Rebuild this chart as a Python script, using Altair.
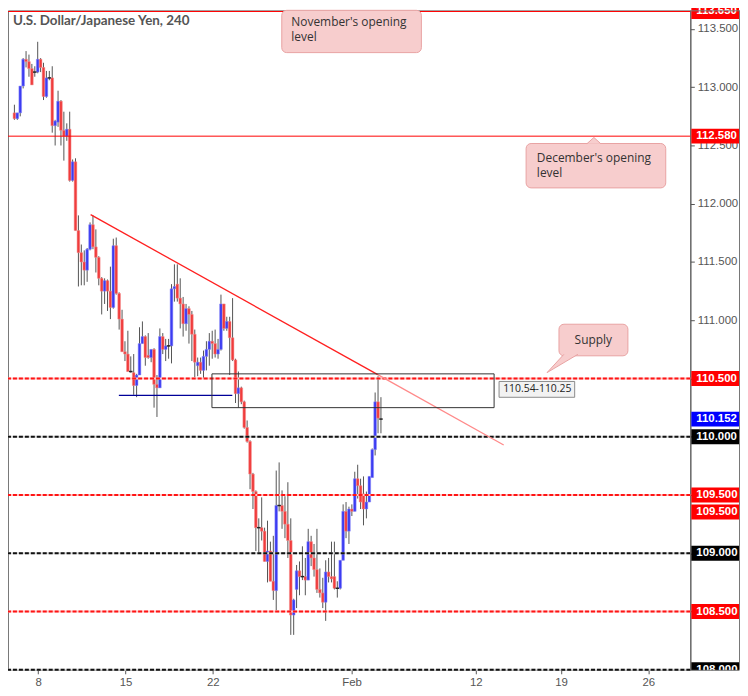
import altair as alt
import pandas as pd

# ---------------- candle data (USD/JPY, 4h) ----------------
idx = list(range(127))
opens = [112.78, 112.73, 112.78, 113.01, 113.24, 113.22, 113.16, 113.13, 113.13, 113.24,
         113.17, 112.92, 113.08, 113.08, 112.67, 112.70, 112.88, 112.63, 112.58, 112.64,
         112.20, 112.36, 111.77, 111.58, 111.50, 111.43, 111.61, 111.82, 111.63, 111.54,
         111.36, 111.25, 111.34, 111.25, 111.11, 111.64, 111.23, 111.01, 110.73, 110.71,
         110.56, 110.55, 110.44, 110.53, 110.80, 110.86, 110.70, 110.68, 110.75, 110.45,
         110.42, 110.86, 110.75, 110.78, 110.78, 111.27, 111.31, 111.19, 111.14, 110.97,
         111.10, 111.05, 110.88, 110.61, 110.64, 110.57, 110.69, 110.75, 110.82, 110.80,
         110.71, 110.75, 111.14, 110.93, 110.99, 110.85, 110.66, 110.37, 110.42, 110.30,
         110.08, 109.96, 109.68, 109.53, 109.22, 109.22, 109.19, 108.93, 109.02, 108.76,
         108.68, 109.41, 109.41, 109.36, 109.25, 109.11, 108.47, 108.69, 108.85, 108.80,
         108.80, 108.77, 109.10, 108.96, 108.86, 108.69, 108.66, 108.58, 108.84, 108.80,
         108.80, 108.70, 108.70, 108.94, 109.36, 109.19, 109.38, 109.36, 109.64, 109.58,
         109.51, 109.38, 109.44, 109.65, 109.89, 110.30, 110.152]
highs = [112.85, 112.78, 113.01, 113.25, 113.31, 113.28, 113.20, 113.18, 113.39, 113.25,
         113.21, 113.14, 113.14, 113.18, 112.72, 112.97, 112.89, 112.79, 112.69, 112.79,
         112.38, 112.39, 111.90, 111.65, 111.60, 111.62, 111.84, 111.90, 111.78, 111.55,
         111.37, 111.36, 111.35, 111.46, 111.70, 111.71, 111.24, 111.09, 110.82, 110.91,
         110.69, 110.71, 110.54, 110.94, 110.99, 110.87, 110.89, 110.75, 110.76, 110.53,
         110.93, 110.89, 110.84, 110.84, 111.31, 111.48, 111.48, 111.36, 111.20, 111.14,
         111.12, 111.08, 110.92, 110.68, 110.68, 110.74, 110.82, 110.89, 110.91, 110.92,
         110.84, 111.22, 111.14, 111.03, 111.03, 111.19, 110.67, 110.56, 110.43, 110.31,
         110.14, 109.97, 109.69, 109.54, 109.30, 109.48, 109.22, 109.28, 109.10, 109.15,
         109.71, 109.78, 109.54, 109.49, 109.61, 109.30, 108.61, 108.90, 108.93, 109.06,
         108.96, 109.21, 109.15, 109.08, 109.21, 108.87, 108.79, 108.94, 108.96, 109.10,
         109.10, 108.76, 108.94, 109.42, 109.44, 109.40, 109.42, 109.70, 109.76, 109.64,
         109.66, 109.53, 109.66, 109.90, 110.38, 110.52, 110.34]
lows = [112.72, 112.72, 112.75, 112.99, 113.17, 113.09, 113.02, 113.09, 113.12, 113.13,
        112.89, 112.91, 113.06, 112.61, 112.50, 112.66, 112.50, 112.37, 112.54, 112.19,
        112.19, 111.77, 111.29, 111.30, 111.30, 111.33, 111.60, 111.61, 111.41, 111.30,
        111.05, 111.14, 111.08, 111.01, 111.10, 111.22, 110.92, 110.73, 110.65, 110.56,
        110.55, 110.36, 110.34, 110.53, 110.80, 110.61, 110.67, 110.64, 110.25, 110.17,
        110.42, 110.71, 110.65, 110.67, 110.63, 111.16, 111.16, 110.93, 110.86, 110.91,
        110.80, 110.65, 110.51, 110.52, 110.54, 110.50, 110.57, 110.61, 110.67, 110.68,
        110.67, 110.74, 110.91, 110.91, 110.53, 110.65, 110.29, 110.25, 110.28, 110.07,
        109.95, 109.55, 109.38, 109.02, 109.00, 109.11, 108.93, 108.75, 108.76, 108.60,
        108.51, 109.36, 109.21, 109.13, 108.96, 108.30, 108.30, 108.53, 108.64, 108.77,
        108.64, 108.77, 108.89, 108.80, 108.66, 108.62, 108.53, 108.42, 108.75, 108.75,
        108.69, 108.62, 108.69, 108.94, 109.13, 109.08, 109.32, 109.36, 109.47, 109.38,
        109.24, 109.30, 109.44, 109.65, 109.84, 110.03, 110.03]
closes = [112.73, 112.78, 113.01, 113.24, 113.22, 113.16, 113.02, 113.13, 113.24, 113.17,
          112.92, 113.08, 113.08, 112.67, 112.71, 112.88, 112.63, 112.58, 112.64, 112.20,
          112.36, 111.77, 111.58, 111.50, 111.43, 111.61, 111.82, 111.63, 111.54, 111.36,
          111.25, 111.34, 111.25, 111.11, 111.64, 111.23, 111.01, 110.73, 110.71, 110.56,
          110.56, 110.44, 110.53, 110.80, 110.86, 110.68, 110.68, 110.75, 110.45, 110.42,
          110.86, 110.75, 110.78, 110.78, 111.27, 111.29, 111.19, 111.14, 110.97, 111.10,
          111.05, 110.88, 110.64, 110.64, 110.57, 110.69, 110.75, 110.82, 110.80, 110.71,
          110.75, 111.14, 110.93, 110.99, 110.85, 110.66, 110.37, 110.42, 110.30, 110.08,
          109.96, 109.68, 109.53, 109.22, 109.22, 109.19, 108.93, 109.02, 108.76, 108.68,
          109.41, 109.41, 109.36, 109.25, 109.11, 108.47, 108.60, 108.85, 108.80, 108.80,
          108.77, 109.10, 108.96, 108.86, 108.69, 108.66, 108.58, 108.84, 108.80, 108.78,
          108.70, 108.70, 108.94, 109.36, 109.19, 109.38, 109.36, 109.64, 109.58, 109.44,
          109.38, 109.44, 109.66, 109.89, 110.30, 110.16, 110.152]

# date axis (candle index -> label)
tick_pos = [8.2, 38.2, 68.2, 115.9, 158.6, 187.9, 217.9]
tick_lab = ["8", "15", "22", "Feb", "12", "19", "26"]
price_ticks = [108.0, 108.5, 109.0, 109.5, 110.0, 110.5, 111.0, 111.5, 112.0, 112.5, 113.0, 113.5]

# horizontal levels
open_levels = [113.65, 112.58]
red_levels = [110.5, 109.5, 108.5]
black_levels = [110.0, 109.0, 108.0]

# price tags on the right axis
tag_prices = [113.65, 112.58, 110.5, 110.152, 110.0, 109.5, 109.0, 108.5, 108.0]
tag_kinds = ["red", "red", "red", "blue", "black", "red", "black", "red", "black"]
extra_tag_prices = [109.5]

# trend line (candle index, price)
trend_x = [26.2, 124.9, 168.2]
trend_p = [111.907, 110.533, 109.93]

# small support line
support_x = [35.9, 74.9]
support_p = 110.356

# supply zone
zone_x = [67.9, 164.9]
zone_hi, zone_lo = 110.54, 110.25

# callouts
notes = [
    {"x1": 91.9, "x2": 139.9, "p1": 113.66, "p2": 113.297},
    {"x1": 175.9, "x2": 223.9, "p1": 112.517, "p2": 112.136},
    {"x1": 187.2, "x2": 210.9, "p1": 110.966, "p2": 110.695},
]
note_lines = [
    {"x": 95.2, "p": 113.562, "t": "November's opening", "a": "left"},
    {"x": 95.2, "p": 113.432, "t": "level", "a": "left"},
    {"x": 179.6, "p": 112.393, "t": "December's opening", "a": "left"},
    {"x": 179.6, "p": 112.263, "t": "level", "a": "left"},
    {"x": 199.0, "p": 110.83, "t": "Supply", "a": "center"},
]

# ---------------- layout ----------------
W, H = 687, 664
X_DOMAIN = [-0.5, 230.65]
Y_DOMAIN = [108.0, 113.66]

label_expr = " : ".join(
    f"abs(datum.value - {p}) < 0.05 ? '{l}'" for p, l in zip(tick_pos, tick_lab)
) + " : ''"

xs = alt.Scale(domain=X_DOMAIN, nice=False, zero=False)
ys = alt.Scale(domain=Y_DOMAIN, nice=False, zero=False)
xaxis = alt.Axis(values=tick_pos, labelExpr=label_expr, title=None, grid=False,
                 domainColor="#555", tickColor="#555", tickSize=4, labelColor="#555",
                 labelFont="Liberation Sans", labelFontSize=11.5, labelPadding=3,
                 labelFlush=False, labelOverlap=False)
yaxis = alt.Axis(orient="right", values=price_ticks, format=".3f", title=None, grid=False,
                 domainColor="#555", tickColor="#555", tickSize=4, labelColor="#555",
                 labelFont="Liberation Sans", labelFontSize=11.5, labelPadding=3,
                 labelOverlap=False, labelFlush=False)


def X(f):
    return alt.X(f, type="quantitative", scale=xs, axis=xaxis)


def Y(f):
    return alt.Y(f, type="quantitative", scale=ys, axis=yaxis)


df = pd.DataFrame({"i": idx, "o": opens, "h": highs, "l": lows, "c": closes})
df["dir"] = ["up" if c > o else ("down" if c < o else "flat") for o, c in zip(opens, closes)]

wicks = alt.Chart(df).mark_rule(color="#555555", strokeWidth=1).encode(
    x=X("i"), y=Y("l"), y2="h")

bodies = alt.Chart(df).transform_filter("datum.c != datum.o").mark_bar(
    size=2.7, strokeWidth=0.5).encode(
    x=X("i"), y=Y("o"), y2="c",
    fill=alt.Fill("dir:N", scale=alt.Scale(domain=["up", "down"], range=["#3c3cf2", "#f03c3c"]), legend=None),
    stroke=alt.Stroke("dir:N", scale=alt.Scale(domain=["up", "down"], range=["#8c8cf8", "#f59090"]), legend=None),
)

dojis = alt.Chart(df).transform_filter("datum.c == datum.o").transform_calculate(
    xa="datum.i - 0.6", xb="datum.i + 0.6").mark_rule(color="#222", strokeWidth=1.5).encode(
    x=X("xa"), x2="xb", y=Y("o"))

open_df = pd.DataFrame({"p": open_levels})
red_df = pd.DataFrame({"p": red_levels})
black_df = pd.DataFrame({"p": black_levels})

open_rules = alt.Chart(open_df).mark_rule(color="#ff0000", strokeWidth=1).encode(y=Y("p"))
red_halo = alt.Chart(red_df).mark_rule(color="#ffc4c4", strokeWidth=2).encode(y=Y("p"))
red_rules = alt.Chart(red_df).mark_rule(color="#ff1414", strokeWidth=2, strokeDash=[4, 2]).encode(y=Y("p"))
black_halo = alt.Chart(black_df).mark_rule(color="#d8d8d8", strokeWidth=2).encode(y=Y("p"))
black_rules = alt.Chart(black_df).mark_rule(color="#111111", strokeWidth=2, strokeDash=[4, 2]).encode(y=Y("p"))

trend_df = pd.DataFrame({"x": trend_x, "p": trend_p})
trend_a = alt.Chart(trend_df.iloc[:2]).mark_line(color="#ff2020", strokeWidth=1.3).encode(
    x=X("x"), y=Y("p"), order="x:Q")
trend_b = alt.Chart(trend_df.iloc[1:]).mark_line(color="#ff8a8a", strokeWidth=1.3).encode(
    x=X("x"), y=Y("p"), order="x:Q")

support = alt.Chart(pd.DataFrame({"x1": [support_x[0]], "x2": [support_x[1]], "p": [support_p]})).mark_rule(
    color="#000099", strokeWidth=1.2).encode(x=X("x1"), x2="x2", y=Y("p"))

zone = alt.Chart(pd.DataFrame({"x1": [zone_x[0]], "x2": [zone_x[1]], "p1": [zone_hi], "p2": [zone_lo]})).mark_rect(
    fill="transparent", stroke="#333", strokeWidth=1).encode(x=X("x1"), x2="x2", y=Y("p1"), y2="p2")

zone_tag_df = pd.DataFrame({"x1": [166.6], "x2": [192.6], "p1": [110.475], "p2": [110.339],
                            "tx": [168.0], "tp": [110.407], "t": [f"{zone_hi:.2f}-{zone_lo:.2f}"]})
zone_tag_box = alt.Chart(zone_tag_df).mark_rect(fill="#f2f2f2", stroke="#8a8a8a", strokeWidth=1).encode(
    x=X("x1"), x2="x2", y=Y("p1"), y2="p2")
zone_tag_text = alt.Chart(zone_tag_df).mark_text(align="left", baseline="middle", font="Open Sans",
                                                 fontSize=10.5, color="#222").encode(
    x=X("tx"), y=Y("tp"), text="t:N")

PINK = "#f7cdcd"
PINK_EDGE = "#e8a2a2"
notes_df = pd.DataFrame(notes)
note_boxes = alt.Chart(notes_df).mark_rect(fill=PINK, stroke=PINK_EDGE, strokeWidth=1, cornerRadius=5).encode(
    x=X("x1"), x2="x2", y=Y("p1"), y2="p2")
dec_tail = alt.Chart(pd.DataFrame({"x": [199.2], "p": [112.545]})).mark_point(
    shape="M -1 0.5 L 0 -0.4 L 1 0.5", size=196, filled=True, fill=PINK, stroke=PINK_EDGE,
    strokeWidth=1, opacity=1).encode(x=X("x"), y=Y("p"))
supply_tail = alt.Chart(pd.DataFrame({"x": [188.4], "p": [110.623]})).mark_point(
    shape="M 0.09 -0.62 L -0.97 0.53 L 0.97 -0.62", size=1024, filled=True, fill=PINK, stroke=PINK_EDGE,
    strokeWidth=1, opacity=1).encode(x=X("x"), y=Y("p"))
nl_df = pd.DataFrame(note_lines)
note_text_left = alt.Chart(nl_df[nl_df.a == "left"]).mark_text(
    align="left", baseline="middle", font="Open Sans", fontSize=12, color="#333").encode(
    x=X("x"), y=Y("p"), text="t:N")
note_text_center = alt.Chart(nl_df[nl_df.a == "center"]).mark_text(
    align="center", baseline="middle", font="Open Sans", fontSize=12, color="#333").encode(
    x=X("x"), y=Y("p"), text="t:N")

# price tags
tag_df = pd.DataFrame({"p": tag_prices, "k": tag_kinds})
tag_color = alt.Scale(domain=["red", "blue", "black"], range=["#ff0000", "#0000ff", "#000000"])
tags = alt.Chart(tag_df).mark_rect(yOffset=-7.5, y2Offset=7.5).encode(
    x=alt.value(W + 1), x2=alt.value(W + 49), y=Y("p"), y2="p",
    color=alt.Color("k:N", scale=tag_color, legend=None))
tag_text = alt.Chart(tag_df).mark_text(align="left", baseline="middle", font="Liberation Sans",
                                       fontSize=11.5, fontWeight="bold", color="white").encode(
    x=alt.value(W + 6), y=Y("p"), text=alt.Text("p:Q", format=".3f"))
extra_df = pd.DataFrame({"p": extra_tag_prices})
extra_tags = alt.Chart(extra_df).mark_rect(color="#ff0000", yOffset=-7.5 + 17, y2Offset=7.5 + 17).encode(
    x=alt.value(W + 1), x2=alt.value(W + 49), y=Y("p"), y2="p")
extra_text = alt.Chart(extra_df).mark_text(align="left", baseline="middle", font="Liberation Sans",
                                           fontSize=11.5, fontWeight="bold", color="white", dy=17).encode(
    x=alt.value(W + 6), y=Y("p"), text=alt.Text("p:Q", format=".3f"))

cover = alt.Chart(pd.DataFrame({"a": [0]})).mark_rect(color="white").encode(
    x=alt.value(W + 0.5), x2=alt.value(W + 50), y=alt.value(H + 0.5), y2=alt.value(H + 12))
frame_right = alt.Chart(pd.DataFrame({"a": [0]})).mark_rule(color="#777", strokeWidth=1).encode(
    x=alt.value(W + 49.5), y=alt.value(0), y2=alt.value(H))
frame_top = alt.Chart(pd.DataFrame({"a": [0]})).mark_rule(color="#777", strokeWidth=1).encode(
    x=alt.value(W), x2=alt.value(W + 49.5), y=alt.value(0.5))
frame_bottom = alt.Chart(pd.DataFrame({"a": [0]})).mark_rule(color="#777", strokeWidth=1).encode(
    x=alt.value(W), x2=alt.value(W + 49.5), y=alt.value(H + 0.5))

title = alt.Chart(pd.DataFrame({"t": ["U.S. Dollar/Japanese Yen, 240"]})).mark_text(
    align="left", baseline="middle", font="Lato", fontSize=13.5, fontWeight="bold", color="#555").encode(
    x=alt.value(5), y=alt.value(11), text="t:N")

chart = alt.layer(
    wicks, bodies, dojis,
    red_halo, black_halo, open_rules, red_rules, black_rules,
    trend_a, trend_b, support, zone, zone_tag_box, zone_tag_text,
    note_boxes, dec_tail, supply_tail, note_text_left, note_text_center,
    tags, tag_text, extra_tags, extra_text, cover, frame_right, frame_top, frame_bottom,
    title,
).properties(
    width=W, height=H,
    autosize=alt.AutoSizeParams(type="none"),
    padding={"left": 0, "top": 0, "right": 50, "bottom": 22},
    background="white",
).configure_view(stroke="#777", strokeWidth=1)

chart.save("out.html", embed_options={"renderer": "svg", "actions": False})
